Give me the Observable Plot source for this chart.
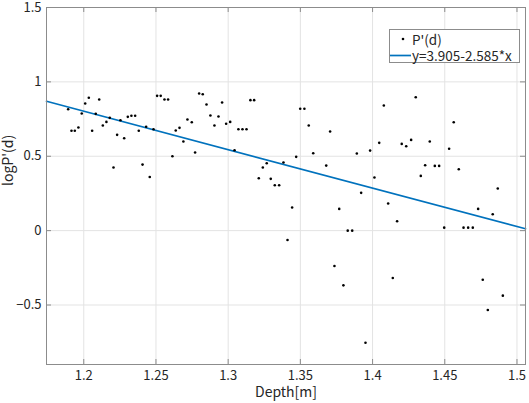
<!DOCTYPE html>
<html>
<head>
<meta charset="utf-8">
<script src="https://cdn.jsdelivr.net/npm/d3@7"></script>
<script src="https://cdn.jsdelivr.net/npm/@observablehq/plot@0.6"></script>
<style>
  body { margin: 0; background: #fff; }
  #wrap { position: relative; width: 529px; height: 403px; font-family: "Noto Sans CJK JP", "Noto Sans", sans-serif; }
  .legend { position: absolute; left: 389px; top: 29px; width: 129px; height: 32px; border: 1px solid #8c8c8c; background: #fff; color: #262626; font-size: 13.5px; line-height: 14px; }
  .legend .row { position: absolute; left: 0; height: 14px; display: flex; align-items: center; white-space: nowrap; }
  .legend svg { display: block; flex: none; }
</style>
</head>
<body>
<div id="wrap"></div>
<script>
// Depth [m] of each sample and its log-probability
const depth = [1.1892,1.1915,1.1938,1.1963,1.1986,1.2010,1.2035,1.2058,1.2083,1.2107,
  1.2132,1.2157,1.2180,1.2206,1.2231,1.2254,1.2280,1.2305,1.2330,1.2356,
  1.2381,1.2407,1.2432,1.2457,1.2483,1.2508,1.2533,1.2559,1.2584,1.2614,
  1.2637,1.2663,1.2690,1.2718,1.2748,1.2771,1.2799,1.2824,1.2850,1.2877,
  1.2905,1.2933,1.2958,1.2986,1.3014,1.3044,1.3071,1.3099,1.3127,1.3154,
  1.3180,1.3212,1.3240,1.3267,1.3295,1.3323,1.3353,1.3383,1.3411,1.3443,
  1.3471,1.3499,1.3528,1.3558,1.3589,1.3679,1.3706,1.3736,1.3769,1.3798,
  1.3828,1.3859,1.3891,1.3921,1.3951,1.3983,1.4013,1.4046,1.4078,1.4108,
  1.4140,1.4170,1.4202,1.4233,1.4267,1.4299,1.4334,1.4364,1.4396,1.4431,
  1.4461,1.4496,1.4530,1.4562,1.4597,1.4630,1.4662,1.4694,1.4731,1.4763,
  1.4798,1.4832,1.4867,1.4902];
const logP = [0.816,0.671,0.671,0.693,0.787,0.855,0.893,0.671,0.785,0.882,
  0.707,0.731,0.758,0.424,0.644,0.742,0.621,0.765,0.772,0.772,
  0.671,0.444,0.698,0.361,0.682,0.906,0.906,0.882,0.882,0.500,
  0.673,0.691,0.599,0.747,0.729,0.525,0.922,0.917,0.848,0.774,
  0.707,0.767,0.861,0.718,0.731,0.540,0.682,0.682,0.682,0.877,
  0.877,0.352,0.424,0.453,0.348,0.305,0.305,0.458,-0.063,0.155,
  0.496,0.819,0.819,0.707,0.520,0.437,0.666,-0.238,0.146,-0.368,
  0,0,0.518,0.254,-0.754,0.538,0.357,0.590,0.841,0.182,
  -0.318,0.063,0.583,0.567,0.610,0.897,0.368,0.439,0.599,0.435,
  0.435,0.020,0.550,0.729,0.413,0.020,0.020,0.020,0.146,-0.330,
  -0.534,0.110,0.283,-0.437];

// Linear fit y = a + b*x
const fitIntercept = 3.905;
const fitSlope = -2.585;

const xDomain = [1.1742, 1.5059];
const yDomain = [-0.9, 1.5];
const xTicks = [1.2, 1.25, 1.3, 1.35, 1.4, 1.45, 1.5];
const yTicks = [-0.5, 0, 0.5, 1, 1.5];

const xLabel = "Depth[m]";
const yLabel = "logP'(d)";
const seriesLabel = "P'(d)";
const fitLabel = "y=3.905-2.585*x";

const points = depth.map((d, i) => ({depth: d, logP: logP[i]}));
const fitLine = xDomain.map(x => ({x, y: fitIntercept + fitSlope * x}));

const axisColor = "#8c8c8c";
const gridColor = "#e3e3e3";
const fitColor = "#0072BD";
const fmt = d3.format("~g");

const chart = Plot.plot({
  width: 529,
  height: 403,
  marginTop: 7,
  marginRight: 4,
  marginBottom: 39,
  marginLeft: 46,
  x: {domain: xDomain},
  y: {domain: yDomain},
  style: {fontFamily: "'Noto Sans CJK JP', 'Noto Sans', sans-serif", fontSize: "13px", color: "#262626", background: "#fff"},
  marks: [
    Plot.gridX(xTicks, {stroke: gridColor, strokeOpacity: 1}),
    Plot.gridY(yTicks, {stroke: gridColor, strokeOpacity: 1}),
    Plot.line(fitLine, {x: "x", y: "y", stroke: fitColor, strokeWidth: 1.7}),
    Plot.dot(points, {x: "depth", y: "logP", r: 1.3, fill: "#000", stroke: "none"}),
    Plot.frame({stroke: axisColor}),
    // inward tick marks on all four sides
    Plot.tickX(xTicks, {x: d => d, insetTop: 352, stroke: axisColor}),
    Plot.tickX(xTicks, {x: d => d, insetBottom: 352, stroke: axisColor}),
    Plot.tickY(yTicks, {y: d => d, insetRight: 474, stroke: axisColor}),
    Plot.tickY(yTicks, {y: d => d, insetLeft: 474, stroke: axisColor}),
    Plot.axisX(xTicks, {tickSize: 0, tickPadding: 6, tickFormat: fmt, label: null}),
    Plot.axisY(yTicks, {tickSize: 0, tickPadding: 5, tickFormat: fmt, label: null}),
    Plot.text([xLabel], {frameAnchor: "bottom", dy: 32, text: d => d, fontSize: 14}),
    Plot.text([yLabel], {frameAnchor: "left", dx: -37.5, rotate: -90, text: d => d, fontSize: 14})
  ]
});

const wrap = document.getElementById("wrap");
wrap.appendChild(chart);

// Legend box inside the axes
const legend = d3.select(wrap).append("div").attr("class", "legend");
const row1 = legend.append("div").attr("class", "row").style("top", "2px");
row1.append("svg").attr("width", 22).attr("height", 14)
  .append("circle").attr("cx", 13).attr("cy", 7).attr("r", 1.3).attr("fill", "#000");
row1.append("span").text(seriesLabel);
const row2 = legend.append("div").attr("class", "row").style("top", "18px");
row2.append("svg").attr("width", 22).attr("height", 14)
  .append("line").attr("x1", 0).attr("x2", 21).attr("y1", 7.5).attr("y2", 7.5)
  .attr("stroke", fitColor).attr("stroke-width", 1.7);
row2.append("span").text(fitLabel);
</script>
</body>
</html>
